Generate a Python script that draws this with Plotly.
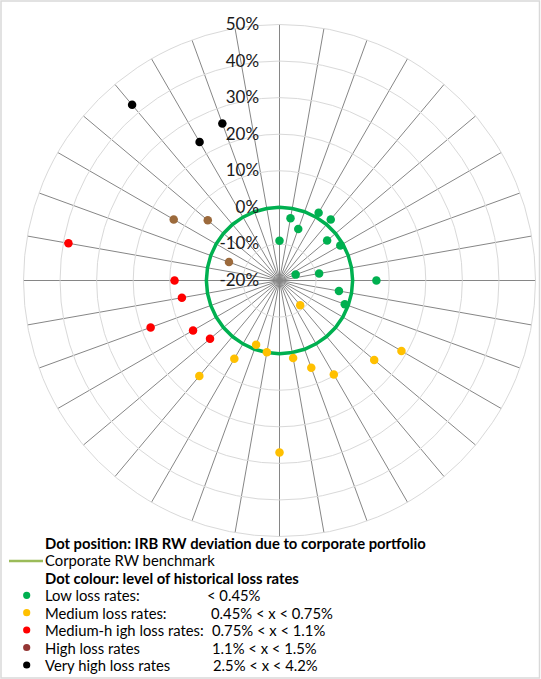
import plotly.graph_objects as go

W, H = 541, 679

# 36 categories, one every 10 degrees clockwise from the top
categories = [f"P{i+1}" for i in range(36)]

# IRB RW deviation (%) by portfolio, grouped by loss-rate level
low_cats = categories[0:12]
low_vals = [-9.1, -2.7, -5.0, 1.4, 1.8, -3.0, -0.8, -15.3, -9.0, 6.5, -3.5, -1.0]

medium_cats = categories[12:23]
medium_vals = [18.5, 13.8, -11.2, 9.7, 5.4, 1.5, 27.0, -0.1, -1.3, 4.7, 14.1]

medhigh_cats = categories[23:29]
medhigh_vals = [4.8, 7.3, 17.5, 7.1, 8.7, 38.6]

high_cats = categories[29:32]
high_vals = [-5.3, 13.4, 5.6]

vhigh_cats = categories[32:35]
vhigh_vals = [42.7, 23.7, 25.7]

benchmark_vals = [0.0] * 36

radial_ticks = [-20, -10, 0, 10, 20, 30, 40, 50]
NB = "\u00a0"
radial_ticktext = [f"{v}%" + NB * 4 for v in radial_ticks]

series = [
    (low_cats, low_vals, "#00b050", "Low loss rates"),
    (medium_cats, medium_vals, "#ffc000", "Medium loss rates"),
    (medhigh_cats, medhigh_vals, "#ff0000", "Medium-high loss rates"),
    (high_cats, high_vals, "#9c6a3c", "High loss rates"),
    (vhigh_cats, vhigh_vals, "#000000", "Very high loss rates"),
]

legend_rows = [
    ("Low loss rates:", "< 0.45%", "#00b050", 206.5),
    ("Medium loss rates:", "0.45% < x < 0.75%", "#ffc000", 210.5),
    ("Medium-h igh loss rates:", "0.75% < x < 1.1%", "#ff0000", 211.5),
    ("High loss rates", "1.1% < x < 1.5%", "#943634", 211.5),
    ("Very high loss rates", "2.5% < x < 4.2%", "#000000", 213),
]

fig = go.Figure()

fig.add_trace(go.Scatterpolar(
    r=benchmark_vals + benchmark_vals[:1],
    theta=categories + categories[:1],
    mode="lines",
    line=dict(color="#00b050", width=3.5),
    name="Corporate RW benchmark",
    hoverinfo="skip",
))

for cats, vals, col, name in series:
    fig.add_trace(go.Scatterpolar(
        r=vals, theta=cats, mode="markers",
        marker=dict(color=col, size=8.5, line=dict(width=0)),
        name=name, cliponaxis=False,
    ))

cx, R = 279.5, 256
top = 24.5
fig.update_layout(
    width=W, height=H,
    margin=dict(l=0, r=0, t=0, b=0),
    paper_bgcolor="white",
    showlegend=False,
    font=dict(family="Lato", color="#262626"),
    polar=dict(
        domain=dict(x=[(cx - R) / W, (cx + R) / W],
                    y=[1 - (top + 2 * R) / H, 1 - top / H]),
        bgcolor="white",
        angularaxis=dict(
            type="category",
            categoryorder="array",
            categoryarray=categories,
            rotation=90,
            direction="clockwise",
            showticklabels=False,
            ticks="",
            showgrid=True,
            gridcolor="#868686",
            gridwidth=1,
            showline=True,
            linecolor="#d9d9d9",
            linewidth=1,
        ),
        radialaxis=dict(
            range=[-20, 50],
            tickmode="array",
            tickvals=radial_ticks,
            ticktext=radial_ticktext,
            angle=90,
            tickangle=90,
            side="counterclockwise",
            ticks="",
            showline=False,
            showgrid=True,
            gridcolor="#d9d9d9",
            gridwidth=1,
            tickfont=dict(family="Lato", size=17, color="#1a1a1a"),
        ),
    ),
)

shapes = []
annotations = []

def px(x):
    return x / W

def py(y):
    return 1 - y / H

# border
shapes.append(dict(type="rect", xref="paper", yref="paper",
                   x0=px(1), x1=px(539.5), y0=py(678), y1=py(1),
                   line=dict(color="#d9d9d9", width=1.5)))

FB = 14.8
FR = 14.8
TX = 43
annotations.append(dict(xref="paper", yref="paper", x=px(TX), y=py(543),
                        xanchor="left", yanchor="middle", showarrow=False,
                        text="<b>Dot position: IRB RW deviation due to corporate portfolio</b>",
                        font=dict(family="Lato", size=FB, color="#000000")))
shapes.append(dict(type="line", xref="paper", yref="paper",
                   x0=px(9), x1=px(43), y0=py(561), y1=py(561),
                   line=dict(color="#9bbb59", width=2.5)))
annotations.append(dict(xref="paper", yref="paper", x=px(TX), y=py(560),
                        xanchor="left", yanchor="middle", showarrow=False,
                        text="Corporate RW benchmark",
                        font=dict(family="Lato", size=FR, color="#000000")))
annotations.append(dict(xref="paper", yref="paper", x=px(TX), y=py(577.5),
                        xanchor="left", yanchor="middle", showarrow=False,
                        text="<b>Dot colour: level of historical loss rates</b>",
                        font=dict(family="Lato", size=FB, color="#000000")))

row_y = [595.3, 612.7, 630, 647.5, 665]
for (lab, rng, col, x2), yy in zip(legend_rows, row_y):
    shapes.append(dict(type="circle", xref="paper", yref="paper",
                       x0=px(26.7 - 3.6), x1=px(26.7 + 3.6),
                       y0=py(yy + 3.6), y1=py(yy - 3.6),
                       fillcolor=col, line=dict(width=0)))
    annotations.append(dict(xref="paper", yref="paper", x=px(TX), y=py(yy),
                            xanchor="left", yanchor="middle", showarrow=False,
                            text=lab, font=dict(family="Lato", size=FR, color="#000000")))
    annotations.append(dict(xref="paper", yref="paper", x=px(x2 - 2), y=py(yy),
                            xanchor="left", yanchor="middle", showarrow=False,
                            text=rng, font=dict(family="Lato", size=FR, color="#000000")))

fig.update_layout(shapes=shapes, annotations=annotations)

fig.write_html("out.html", config={"displayModeBar": False},
               post_script="document.body.style.margin='0';")
